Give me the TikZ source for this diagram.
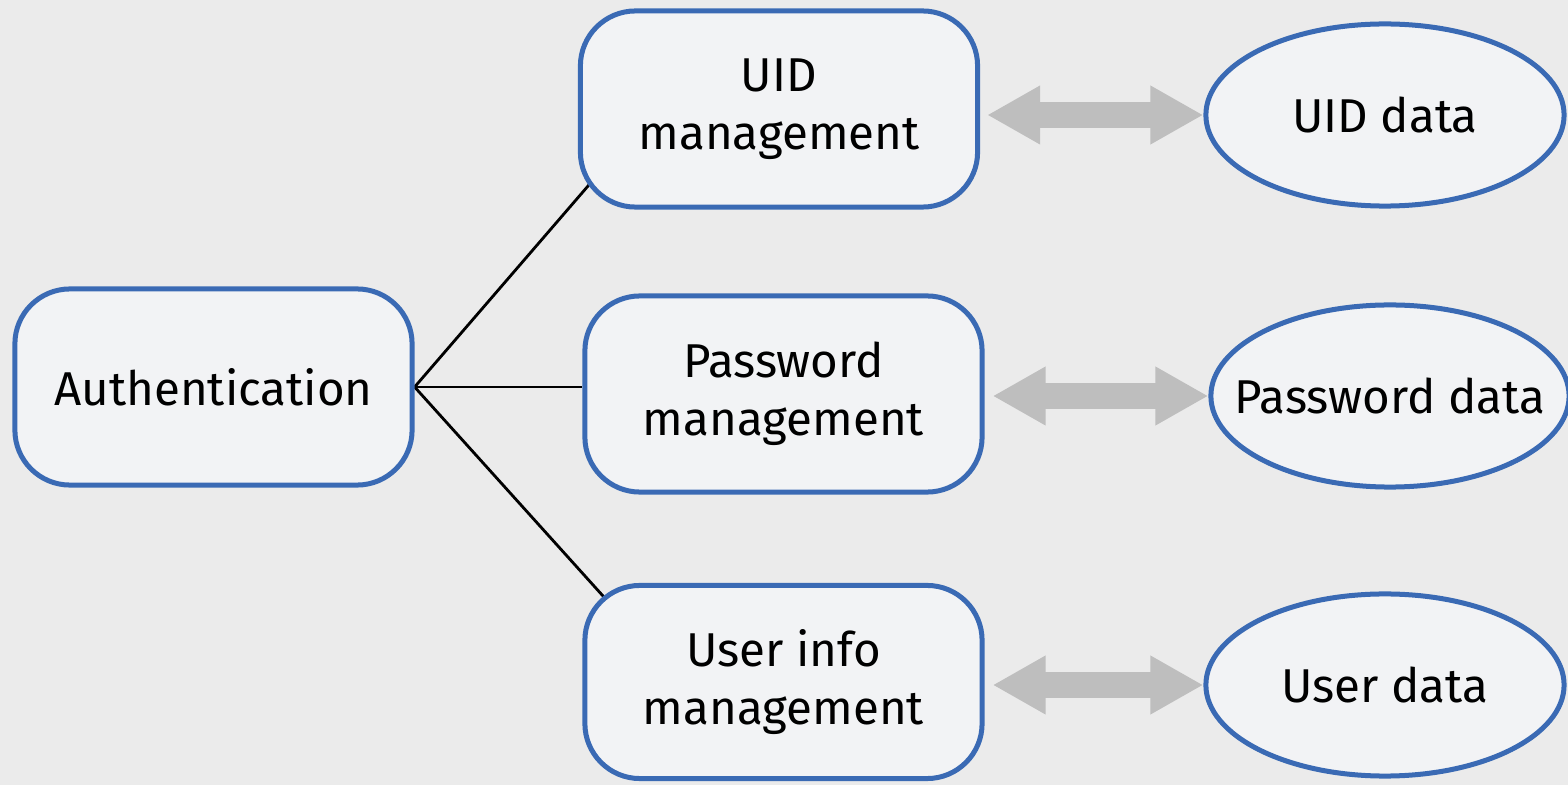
\documentclass[tikz,border=0pt]{standalone}
\usepackage{fontspec}
\setmainfont{Fira Sans}
\usetikzlibrary{arrows.meta,shapes.geometric,calc}
\definecolor{bggray}{HTML}{EBEBEB}
\definecolor{boxfill}{HTML}{F2F3F5}
\definecolor{boxblue}{HTML}{3A6AB4}
\definecolor{arrgray}{HTML}{BEBEBE}
\tikzset{
  procbox/.style={draw=boxblue, line width=0.05cm, fill=boxfill, rounded corners=0.55cm,
    minimum width=3.97cm, minimum height=1.96cm, align=center, inner sep=0pt,
    font=\fontsize{13.5}{16.5}\selectfont},
  databox/.style={ellipse, draw=boxblue, line width=0.05cm, fill=boxfill,
    minimum width=3.58cm, minimum height=1.82cm, inner sep=0pt,
    font=\fontsize{13.5}{16.5}\selectfont},
  link/.style={draw=black, line width=0.8pt},
  garrow/.style={draw=arrgray, line width=0.25cm,
    {Triangle[width=0.55cm,length=0.53cm]}-{Triangle[width=0.55cm,length=0.53cm]}}
}
\begin{document}
\begin{tikzpicture}[x=0.01cm,y=-0.01cm]
\fill[bggray] (0,0) rectangle (1568,785);
\useasboundingbox (0,0) rectangle (1568,785);
% invisible placement first to get anchors
\path (213.5,387) node[procbox, draw=none, fill=none] (auth) {\phantom{A}};
\path (779,109) node[procbox, draw=none, fill=none] (uidm) {\phantom{A}};
\path (783.5,394) node[procbox, draw=none, fill=none] (pwm) {\phantom{A}};
\path (783.5,682) node[procbox, draw=none, fill=none, minimum height=1.93cm] (uim) {\phantom{A}};
% connectors (drawn under the boxes)
\coordinate (uidm-end) at ($(uidm.south west)+(20,-35)$);
\coordinate (uim-end) at ($(uim.north west)+(35,29)$);
\draw[link] (auth.east) -- (uidm-end);
\draw[link] (auth.east) -- (auth.east -| pwm.west);
\draw[link] (auth.east) -- (uim-end);
% boxes
\node[procbox] (auth) at (213.5,387) {Authentication};
\node[procbox] (uidm) at (779,109) {UID\\management};
\node[procbox] (pwm) at (783.5,394) {Password\\management};
\node[procbox, minimum height=1.93cm] (uim) at (783.5,682) {User info\\management};
\node[databox] (uidd) at (1385,115) {\makebox[0pt]{UID data}};
\node[databox] (pwd) at (1390,396) {\makebox[0pt]{Password data}};
\node[databox] (usd) at (1385,685) {\makebox[0pt]{User data}};
% data arrows
\draw[garrow] ([xshift=0.07cm]uidm.east |- uidd.west) -- (uidd.west);
\draw[garrow] ([xshift=0.08cm]pwm.east |- pwd.west) -- (pwd.west);
\draw[garrow] ([xshift=0.08cm]uim.east |- usd.west) -- (usd.west);
\end{tikzpicture}
\end{document}
